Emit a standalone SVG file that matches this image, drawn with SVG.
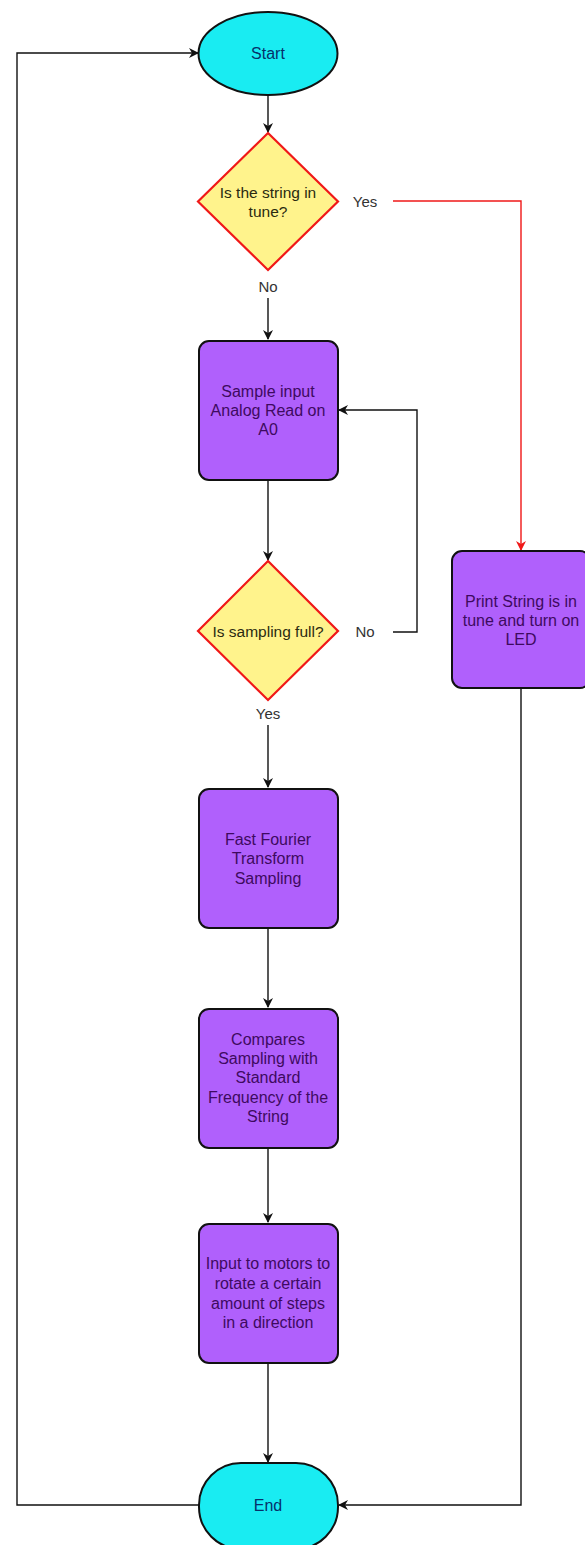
<svg xmlns="http://www.w3.org/2000/svg" width="585" height="1545" viewBox="0 0 585 1545">
<style>
.bg{fill:#ffffff}
.term{fill:#19ECF2;stroke:#111;stroke-width:2}
.proc{fill:#B060FC;stroke:#111;stroke-width:2}
.dec{fill:#FFF38C;stroke:#F01818;stroke-width:2.2}
.t{font-family:"Liberation Sans",Arial,sans-serif;font-size:16px;text-anchor:middle}
.tp{fill:#3E0A60}
.tt{fill:#06306A}
.td{fill:#2A2A10;font-size:15.5px}
.lbl{font-family:"Liberation Sans",Arial,sans-serif;font-size:15px;fill:#333;text-anchor:middle}
.c{fill:none;stroke:#111;stroke-width:1.4}
.cr{fill:none;stroke:#F01818;stroke-width:1.4}
</style>
<defs>
<marker id="ah" viewBox="0 0 10 10" refX="9" refY="5" markerWidth="10" markerHeight="10" markerUnits="userSpaceOnUse" orient="auto"><path d="M0,0 L10,5 L0,10 L3,5 z" fill="#111"/></marker>
<marker id="ahr" viewBox="0 0 10 10" refX="9" refY="5" markerWidth="10" markerHeight="10" markerUnits="userSpaceOnUse" orient="auto"><path d="M0,0 L10,5 L0,10 L3,5 z" fill="#F01818"/></marker>
</defs>
<rect class="bg" x="0" y="0" width="585" height="1545"/>
<g id="connectors">
<path class="c" d="M268,95 V132" marker-end="url(#ah)"/>
<path class="c" d="M268,298 V339" marker-end="url(#ah)"/>
<path class="c" d="M268,481 V560" marker-end="url(#ah)"/>
<path class="c" d="M393,632 H417 V410 H339" marker-end="url(#ah)"/>
<path class="c" d="M268,725 V787" marker-end="url(#ah)"/>
<path class="c" d="M268,929 V1007" marker-end="url(#ah)"/>
<path class="c" d="M268,1149 V1222" marker-end="url(#ah)"/>
<path class="c" d="M268,1364 V1462" marker-end="url(#ah)"/>
<path class="cr" d="M393,201 H521 V550" marker-end="url(#ahr)"/>
<path class="c" d="M521,689 V1505 H339" marker-end="url(#ah)"/>
<path class="c" d="M199,1505 H17 V53 H198" marker-end="url(#ah)"/>
<text class="lbl" x="365" y="207">Yes</text>
<text class="lbl" x="268" y="292">No</text>
<text class="lbl" x="365" y="637">No</text>
<text class="lbl" x="268" y="719">Yes</text>
</g>
<g id="start">
<ellipse class="term" cx="268" cy="53.5" rx="69.5" ry="41.5"/>
<text class="t tt" x="268" y="59">Start</text>
</g>
<g id="decision1">
<polygon class="dec" points="268,133 338,201.5 268,270 198,201.5"/>
<text class="t td" x="268" y="198">Is the string in</text>
<text class="t td" x="268" y="217">tune?</text>
</g>
<g id="sample">
<rect class="proc" x="199" y="341" width="139" height="139" rx="10"/>
<text class="t tp" x="268" y="397">Sample input</text>
<text class="t tp" x="268" y="416">Analog Read on</text>
<text class="t tp" x="268" y="435">A0</text>
</g>
<g id="decision2">
<polygon class="dec" points="268,561 338,631 268,700 198,631"/>
<text class="t td" x="268" y="637">Is sampling full?</text>
</g>
<g id="print">
<rect class="proc" x="452" y="551" width="138" height="137" rx="10"/>
<text class="t tp" x="521" y="607">Print String is in</text>
<text class="t tp" x="521" y="626">tune and turn on</text>
<text class="t tp" x="521" y="645">LED</text>
</g>
<g id="fft">
<rect class="proc" x="199" y="789" width="139" height="139" rx="10"/>
<text class="t tp" x="268" y="845">Fast Fourier</text>
<text class="t tp" x="268" y="864">Transform</text>
<text class="t tp" x="268" y="884">Sampling</text>
</g>
<g id="compare">
<rect class="proc" x="199" y="1009" width="139" height="139" rx="10"/>
<text class="t tp" x="268" y="1045">Compares</text>
<text class="t tp" x="268" y="1064">Sampling with</text>
<text class="t tp" x="268" y="1083">Standard</text>
<text class="t tp" x="268" y="1103">Frequency of the</text>
<text class="t tp" x="268" y="1122">String</text>
</g>
<g id="motors">
<rect class="proc" x="199" y="1224" width="139" height="139" rx="10"/>
<text class="t tp" x="268" y="1269">Input to motors to</text>
<text class="t tp" x="268" y="1289">rotate a certain</text>
<text class="t tp" x="268" y="1309">amount of steps</text>
<text class="t tp" x="268" y="1328">in a direction</text>
</g>
<g id="end">
<rect class="term" x="199" y="1463" width="139" height="86" rx="42" ry="42"/>
<text class="t tt" x="268" y="1511">End</text>
</g>
</svg>
